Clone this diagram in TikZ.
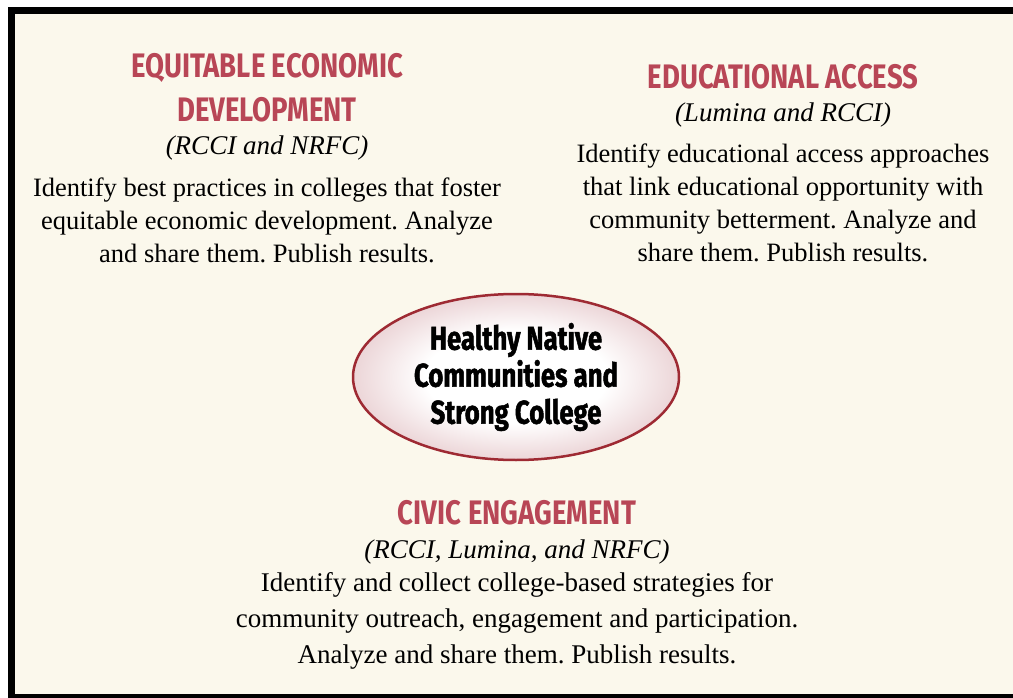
\documentclass[tikz,border=0pt]{standalone}
\usepackage{fontspec}
\setmainfont{Liberation Serif}
\newfontfamily\headfont[FakeStretch=0.81]{Fira Sans}
\newfontfamily\hubfont[FakeStretch=0.78,FakeBold=1.5]{Fira Sans}
\usetikzlibrary{shapes.geometric}
\definecolor{cream}{HTML}{FBF8EC}
\definecolor{titlered}{HTML}{B84656}
\definecolor{rimred}{HTML}{9E2A33}
\definecolor{rimpink}{HTML}{A8424C}
\pgfdeclareradialshading{hubshade}{\pgfpoint{0bp}{0bp}}{color(0bp)=(white); color(14bp)=(white); color(28bp)=(rimpink!28); color(40bp)=(rimpink!65); color(50bp)=(rimpink)}
\tikzset{
  areatitle/.style={align=center, text=titlered, font=\headfont\bfseries\fontsize{34}{44}\selectfont},
  funders/.style={font=\itshape\fontsize{27}{33}\selectfont},
  areatext/.style={align=center, font=\frenchspacing\fontsize{26.5}{33}\selectfont},
  hub/.style={ellipse, draw=rimred, line width=2.5pt, shading=hubshade,
    minimum width=326pt, minimum height=166pt, inner sep=0pt, align=center,
    font=\hubfont\bfseries\fontsize{33}{37}\selectfont}
}
\begin{document}
\begin{tikzpicture}[x=1pt,y=-1pt]
  %%%%% START %%%%%
  \useasboundingbox (0,0) rectangle (1013,698);
  \fill[white] (0,0) rectangle (1013,698);
  \fill[black] (8,7) rectangle (1030,698);
  \fill[cream] (15,14) rectangle (1030,694);

  \node[hub] (hub) at (516,377) {Healthy Native\\Communities and\\Strong College};

  % equitable economic development
  \node[areatitle] (econtitle) at (267,88) {EQUITABLE ECONOMIC\\DEVELOPMENT};
  \node[funders] (econfund) at (267,148) {(RCCI and NRFC)};
  \node[areatext] (econtext) at (267,220) {Identify best practices in colleges that foster\\equitable economic development. Analyze\\and share them. Publish results.};

  % educational access
  \node[areatitle] (edutitle) at (783,77) {EDUCATIONAL ACCESS};
  \node[funders] (edufund) at (783,115) {(Lumina and RCCI)};
  \node[areatext] (edutext) at (783,203) {Identify educational access approaches\\that link educational opportunity with\\community betterment. Analyze and\\share them. Publish results.};

  % civic engagement
  \node[areatitle] (civtitle) at (517,513) {CIVIC ENGAGEMENT};
  \node[funders] (civfund) at (517,552) {(RCCI, Lumina, and NRFC)};
  \node[areatext, font=\frenchspacing\fontsize{27}{36}\selectfont] (civtext) at (517,621) {Identify and collect college-based strategies for\\community outreach, engagement and participation.\\Analyze and share them. Publish results.};
  %%%%% END %%%%%
\end{tikzpicture}
\end{document}
